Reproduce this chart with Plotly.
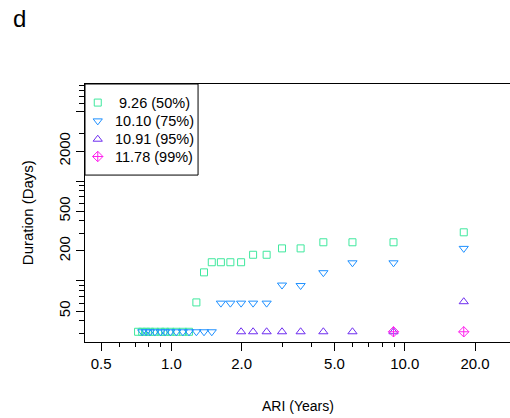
import plotly.graph_objects as go

# Average recurrence interval (years) of ranked events, largest first
ari = [17.9, 8.95, 5.97, 4.48, 3.58, 2.98, 2.56, 2.24, 1.99, 1.79, 1.63, 1.49,
       1.38, 1.28, 1.19, 1.12, 1.05, 0.99, 0.94, 0.90, 0.85, 0.81, 0.78, 0.75, 0.72]

# Drought duration (days) for each threshold
dur_50 = [307, 244, 244, 244, 212, 212, 183, 183, 154, 154, 154, 154,
          122, 61, 31, 31, 31, 31, 31, 31, 31, 31, 31, 31, 31]
dur_75 = [212, 152, 152, 121, 90, 91, 60, 60, 60, 60, 60, 31,
          31, 31, 31, 31, 31, 31, 31, 31, 31, 31, 31, 31]
dur_95 = [62, 31, 31, 31, 31, 31, 31, 31, 31]
dur_99 = [31, 31]

labels = [" 9.26 (50%)", "10.10 (75%)", "10.91 (95%)", "11.78 (99%)"]
colors = ["#3FE89E", "#1E90FF", "#6E2CF0", "#FF22EE"]
symbols = ["square-open", "triangle-down-open", "triangle-up-open", "diamond-cross-open"]
sizes = [7, 8, 8, 8]

x_ticks = [0.5, 1, 2, 5, 10, 20]
x_ticktext = ["0.5", "1.0", "2.0", "5.0", "10.0", "20.0"]
x_minor = [0.6, 0.7, 0.8, 0.9, 3, 4, 6, 7, 8, 9]
y_ticks = [50, 100, 200, 500, 1000, 2000, 5000]
y_ticktext = ["50", "", "200", "500", "", "2000", ""]
y_minor = [30, 40, 60, 70, 80, 90, 300, 400, 600, 700, 800, 900, 3000,
           6000, 7000, 8000, 9000]

FONT = "Liberation Sans, Arial, sans-serif"

fig = go.Figure()
series = [dur_50, dur_75, dur_95, dur_99]
for i, d in enumerate(series):
    fig.add_trace(go.Scatter(
        x=ari[:len(d)], y=d, mode="markers", showlegend=False,
        marker=dict(symbol=symbols[i], size=sizes[i], color=colors[i],
                    line=dict(width=1, color=colors[i])),
    ))

# Legend keys on a helper axis spanning the plot area in unit coordinates
key_x = 0.030
key_y = [0.928, 0.857, 0.786, 0.719]
for i in range(4):
    fig.add_trace(go.Scatter(
        x=[key_x], y=[key_y[i]], xaxis="x2", yaxis="y2", mode="markers",
        showlegend=False, hoverinfo="skip",
        marker=dict(symbol=symbols[i], size=sizes[i], color=colors[i],
                    line=dict(width=1, color=colors[i])),
    ))
    fig.add_annotation(x=0.066, y=key_y[i], xref="x2", yref="y2", text=labels[i],
                       showarrow=False, xanchor="left", yanchor="middle",
                       font=dict(size=14.5, color="black", family=FONT))

axis_common = dict(showgrid=False, zeroline=False, showline=True, linecolor="black",
                   linewidth=1, ticks="outside", tickcolor="black", tickwidth=1,
                   tickfont=dict(size=15, color="black", family=FONT))

fig.update_layout(
    width=510, height=418,
    margin=dict(l=85, r=0, t=84, b=76),
    paper_bgcolor="white", plot_bgcolor="white",
    xaxis=dict(type="log", range=[-0.370, 1.451], tickvals=x_ticks, ticktext=x_ticktext,
               ticklen=8, mirror=True,
               minor=dict(tickvals=x_minor, ticklen=4, ticks="outside", tickcolor="black",
                          tickwidth=1, showgrid=False),
               **axis_common),
    yaxis=dict(type="log", range=[1.389, 3.972], tickvals=y_ticks, ticktext=y_ticktext,
               ticklen=8, tickangle=-90,
               minor=dict(tickvals=y_minor, ticklen=5, ticks="outside", tickcolor="black",
                          tickwidth=1, showgrid=False),
               **axis_common),
    xaxis2=dict(range=[0, 1], overlaying="x", visible=False, anchor="y2"),
    yaxis2=dict(range=[0, 1], overlaying="y", visible=False, anchor="x2"),
    font=dict(family=FONT, color="black"),
)

# Legend frame
fig.add_shape(type="rect", xref="x2", yref="y2", x0=0, x1=0.266, y0=0.647, y1=1,
              line=dict(color="black", width=1), fillcolor="rgba(0,0,0,0)")

fig.add_annotation(x=0.5, y=-0.248, xref="paper", yref="paper", text="ARI (Years)",
                   showarrow=False, xanchor="center", yanchor="middle",
                   font=dict(size=14, family=FONT, color="black"))
fig.add_annotation(x=-0.136, y=0.5, xref="paper", yref="paper", text="Duration (Days)",
                   textangle=-90, showarrow=False, xanchor="center", yanchor="middle",
                   font=dict(size=15, family=FONT, color="black"))
fig.add_annotation(x=-0.173, y=1.314, xref="paper", yref="paper", text="d",
                   showarrow=False, xanchor="left", yanchor="top",
                   font=dict(size=24, family=FONT, color="black"))

fig.write_html("out.html")
